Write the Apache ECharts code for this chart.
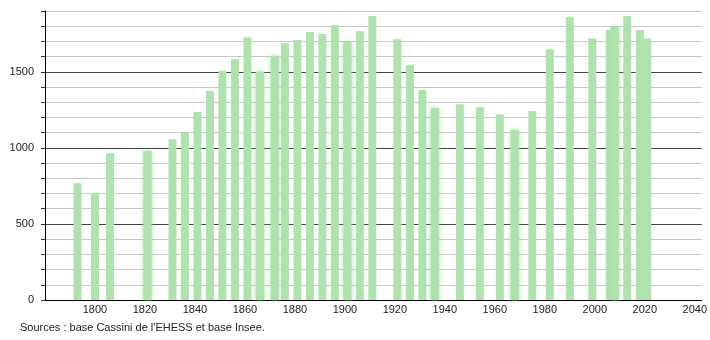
<!DOCTYPE html>
<html>
<head>
<meta charset="utf-8">
<script src="https://cdn.jsdelivr.net/npm/echarts@6/dist/echarts.min.js"></script>
<style>
html,body{margin:0;padding:0;background:#fff;}
#chart{width:710px;height:340px;}
</style>
</head>
<body>
<div id="chart"></div>
<script>
const years = [1793,1800,1806,1821,1831,1836,1841,1846,1851,1856,1861,1866,1872,1876,1881,1886,1891,1896,1901,1906,1911,1921,1926,1931,1936,1946,1954,1962,1968,1975,1982,1990,1999,2006,2008,2013,2018,2021];
const population = [768,704,964,980,1057,1105,1236,1374,1506,1583,1727,1501,1604,1688,1709,1762,1749,1806,1696,1767,1867,1714,1545,1381,1260,1287,1267,1221,1118,1243,1648,1859,1720,1775,1797,1867,1775,1720];
const xTickLabels = [1800,1820,1840,1860,1880,1900,1920,1940,1960,1980,2000,2020,2040];
const yTickLabels = [0,500,1000,1500];
const sourceText = "Sources : base Cassini de l'EHESS et base Insee.";

const softYears = [1821,1866,1872,1901,1936,1968,2008];
const barColor = '#aee3ae';
const font = '"Liberation Sans", Arial, sans-serif';

const barData = years.map((y, i) => {
  const item = { value: [y, population[i]] };
  if (softYears.indexOf(y) >= 0) {
    item.itemStyle = { shadowBlur: 4, shadowColor: 'rgba(150,215,150,0.9)' };
  }
  return item;
});

const chart = echarts.init(document.getElementById('chart'), null, { renderer: 'canvas' });
chart.setOption({
  animation: false,
  backgroundColor: '#ffffff',
  grid: { left: 45, right: 8, top: 11, bottom: 40, containLabel: false },
  xAxis: {
    type: 'value',
    min: 1780,
    max: 2042.8,
    interval: 20,
    axisLine: { show: true, onZero: false, lineStyle: { color: '#000', width: 1 } },
    axisTick: { show: false },
    splitLine: { show: false },
    axisLabel: {
      margin: 4,
      color: '#222',
      fontFamily: font,
      fontSize: 11,
      showMaxLabel: false,
      formatter: v => (xTickLabels.indexOf(Math.round(v)) >= 0 && Math.abs(v - Math.round(v)) < 1e-6) ? String(Math.round(v)) : ''
    }
  },
  yAxis: {
    type: 'value',
    min: 0,
    max: 1900,
    interval: 100,
    axisLine: { show: true, lineStyle: { color: '#000', width: 1 } },
    axisTick: { show: true, length: 4, lineStyle: { color: '#333' } },
    splitLine: {
      show: true,
      lineStyle: { color: ['#444', '#c8c8c8', '#c8c8c8', '#c8c8c8', '#c8c8c8'], width: 1 }
    },
    axisLabel: {
      margin: 11,
      color: '#222',
      fontFamily: font,
      fontSize: 11,
      formatter: v => yTickLabels.indexOf(v) >= 0 ? String(v) : ''
    }
  },
  series: [{
    type: 'bar',
    barWidth: 8,
    itemStyle: { color: barColor },
    data: barData
  }],
  graphic: [{
    type: 'text',
    left: 20,
    top: 322,
    style: { text: sourceText, fill: '#222', font: '11px ' + font }
  }]
});
</script>
</body>
</html>
